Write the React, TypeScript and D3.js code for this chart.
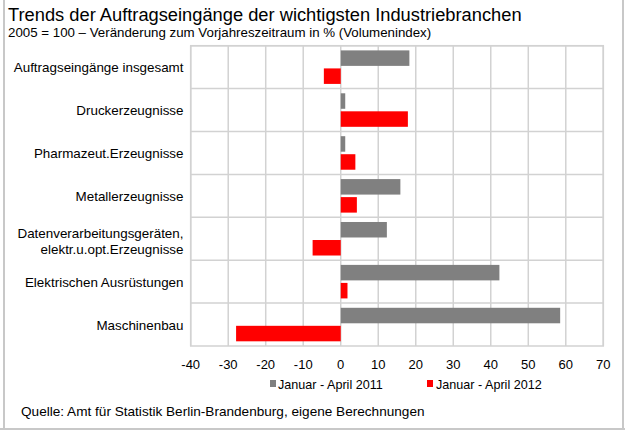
import React from "react";
import * as d3 from "d3";

const categories = [
  "Auftragseingänge insgesamt",
  "Druckerzeugnisse",
  "Pharmazeut.Erzeugnisse",
  "Metallerzeugnisse",
  "Datenverarbeitungsgeräten,\nelektr.u.opt.Erzeugnisse",
  "Elektrischen Ausrüstungen",
  "Maschinenbau",
];
const series2011 = [18.3, 1.2, 1.2, 15.9, 12.3, 42.3, 58.5];
const series2012 = [-4.5, 17.9, 3.9, 4.3, -7.5, 1.8, -27.9];
const seriesNames = ["Januar - April 2011", "Januar - April 2012"];
const xTicks = [-40, -30, -20, -10, 0, 10, 20, 30, 40, 50, 60, 70];
const title = "Trends der Auftragseingänge der wichtigsten Industriebranchen";
const subtitle = "2005 = 100 – Veränderung zum Vorjahreszeitraum in % (Volumenindex)";
const source = "Quelle: Amt für Statistik Berlin-Brandenburg, eigene Berechnungen";

const W = 625;
const H = 430;
const plot = { left: 190.7, right: 603.3, top: 45.7, bottom: 346 };
const colors = ["#808080", "#ff0000"];
const gridColor = "#d2d2d2";
const font = "'Liberation Sans', Arial, Helvetica, sans-serif";

export default function App() {
  const x = d3.scaleLinear().domain([-40, 70]).range([plot.left, plot.right]);
  const y = d3.scaleBand<string>().domain(categories).range([plot.top, plot.bottom]).padding(0);
  const inner = d3
    .scaleBand<string>()
    .domain(["0", "1"])
    .range([0, y.bandwidth()])
    .paddingInner(0.14)
    .paddingOuter(0.26);
  const series = [series2011, series2012];

  return (
    <svg
      width={W}
      height={H}
      style={{ position: "absolute", left: 0, top: 0, display: "block", background: "#fff" }}
      fontFamily={font}
    >
      <rect x={0} y={0} width={W} height={H} fill="#fff" />
      {/* outer frame */}
      <line x1={4} x2={4} y1={0} y2={H} stroke="#c8c8c8" strokeWidth={2} />
      <line x1={623} x2={623} y1={0} y2={H} stroke="#c8c8c8" strokeWidth={2} />
      <line x1={0} x2={W} y1={429} y2={429} stroke="#c8c8c8" strokeWidth={2} />

      <text x={8} y={21} fontSize={18.3} fill="#000">{title}</text>
      <text x={8} y={37} fontSize={13.3} fill="#000">{subtitle}</text>

      {/* vertical grid */}
      {xTicks.map((t) => (
        <line
          key={"g" + t}
          x1={x(t)}
          x2={x(t)}
          y1={plot.top}
          y2={plot.bottom}
          stroke={gridColor}
          strokeWidth={1.5}
        />
      ))}
      {/* horizontal grid */}
      {categories.map((c, i) => (
        <line
          key={"h" + i}
          x1={plot.left}
          x2={plot.right}
          y1={(y(c) as number)}
          y2={(y(c) as number)}
          stroke={gridColor}
          strokeWidth={1.5}
        />
      ))}
      <rect
        x={plot.left}
        y={plot.top}
        width={plot.right - plot.left}
        height={plot.bottom - plot.top}
        fill="none"
        stroke={gridColor}
        strokeWidth={1.5}
      />

      {/* bars */}
      {categories.map((c, i) =>
        series.map((s, k) => {
          const v = s[i];
          const x0 = x(Math.min(0, v));
          const x1 = x(Math.max(0, v));
          return (
            <rect
              key={c + k}
              x={x0}
              y={(y(c) as number) + (inner(String(k)) as number)}
              width={x1 - x0}
              height={inner.bandwidth()}
              fill={colors[k]}
            />
          );
        })
      )}

      {/* category labels */}
      {categories.map((c, i) => {
        const lines = c.split("\n");
        const cy = (y(c) as number) + y.bandwidth() / 2;
        const lh = 16.5;
        return (
          <text key={"l" + i} x={183.5} textAnchor="end" fontSize={13.4} fill="#000">
            {lines.map((ln, j) => (
              <tspan
                key={j}
                x={183.5}
                y={cy + (j - (lines.length - 1) / 2) * lh + 5 + (lines.length > 1 ? 2 : 0)}
              >
                {ln}
              </tspan>
            ))}
          </text>
        );
      })}

      {/* x tick labels */}
      {xTicks.map((t) => (
        <text key={"t" + t} x={x(t)} y={369} textAnchor="middle" fontSize={13} fill="#000">
          {t}
        </text>
      ))}

      {/* legend */}
      <rect x={270} y={380} width={6} height={7} fill={colors[0]} />
      <text x={278} y={388.5} fontSize={12.6} fill="#000">{seriesNames[0]}</text>
      <rect x={427} y={380} width={6} height={7} fill={colors[1]} />
      <text x={436} y={388.5} fontSize={12.6} fill="#000">{seriesNames[1]}</text>

      <text x={21} y={416} fontSize={13.6} fill="#000">{source}</text>
    </svg>
  );
}
